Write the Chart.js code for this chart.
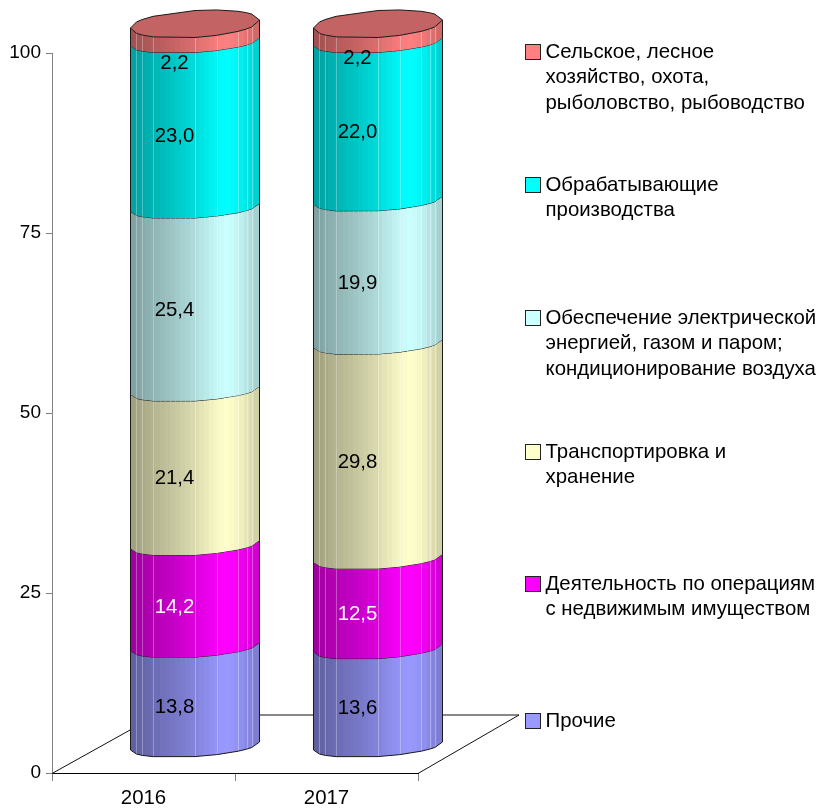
<!DOCTYPE html>
<html><head><meta charset="utf-8">
<style>html,body{margin:0;padding:0;background:#fff}canvas{display:block}</style>
<script src="https://cdn.jsdelivr.net/npm/chart.js@4"></script>
</head><body><canvas id="c" width="821" height="808"></canvas>
<script>
const categories = ['2016', '2017'];
const prochie = [13.8, 13.6];
const nedvizh = [14.2, 12.5];
const transport = [21.4, 29.8];
const energy = [25.4, 19.9];
const manufacturing = [23.0, 22.0];
const agriculture = [2.2, 2.2];
const yTicks = [0, 25, 50, 75, 100];
const seriesNames = [
  ['Прочие'],
  ['Деятельность по операциям', 'с недвижимым имуществом'],
  ['Транспортировка и', 'хранение'],
  ['Обеспечение электрической', 'энергией, газом и паром;', 'кондиционирование воздуха'],
  ['Обрабатывающие', 'производства'],
  ['Сельское, лесное', 'хозяйство, охота,', 'рыболовство, рыбоводство']
];
const seriesColors = ['#9999FF', '#FF00FF', '#FFFFCC', '#CCFFFF', '#00FFFF', '#FF8080'];
const labelColors = ['#000', '#fff', '#000', '#000', '#000', '#000'];
const seriesValues = [prochie, nedvizh, transport, energy, manufacturing, agriculture];

const FONT = '"Liberation Sans", Arial, sans-serif';
const FS = 20.4;
const DEPTH_X = 101, DEPTH_Y = 58.5;
const SHIFT_X = 51.5, SHIFT_Y = 26.5;
const TILT = 4, RING_B = 10.6, CAP_B = 13.5, CAP_LIFT = 2.5;
const SEAMS = [-1, -0.907, -0.82, -0.65, 0, 0.336, 0.667, 0.8, 0.88, 1];
const SHADE = [[0,.62],[.1,.67],[.3,.76],[.5,.86],[.7,.98],[.76,1],[.85,.95],[1,.8]];

function hexRgb(h){return [1,3,5].map(i=>parseInt(h.substr(i,2),16));}
function shadeAt(f){
  for(let i=1;i<SHADE.length;i++){
    if(f<=SHADE[i][0]){
      const a=SHADE[i-1],b=SHADE[i];
      return a[1]+(b[1]-a[1])*(f-a[0])/(b[0]-a[0]);
    }
  }
  return SHADE[SHADE.length-1][1];
}
function tint(rgb,f){return 'rgb('+rgb.map(v=>Math.round(v*f)).join(',')+')';}
function ringPts(cx,a,cy,b,sign){
  return SEAMS.map(c=>[cx+a*c, cy-TILT*c+sign*b*Math.sqrt(Math.max(0,1-c*c))]);
}
function strokePts(ctx,pts){
  ctx.beginPath();
  pts.forEach((p,i)=>i?ctx.lineTo(p[0],p[1]):ctx.moveTo(p[0],p[1]));
  ctx.stroke();
}

const cylinderPlugin = {
  id:'cylinders',
  beforeDatasetsDraw(chart){
    const {ctx,chartArea:ca}=chart;
    ctx.save();
    ctx.strokeStyle='#111';ctx.lineWidth=1;
    ctx.beginPath();
    ctx.moveTo(ca.left,ca.bottom+.5);
    ctx.lineTo(ca.left+DEPTH_X+4,ca.bottom-DEPTH_Y+.5);
    ctx.lineTo(ca.right+DEPTH_X,ca.bottom-DEPTH_Y+.5);
    ctx.lineTo(ca.right,ca.bottom+.5);
    ctx.stroke();
    ctx.restore();
  },
  beforeDatasetDraw(chart,args){
    const {ctx}=chart;
    const meta=args.meta, di=args.index;
    const rgb=hexRgb(seriesColors[di]);
    const isTop=di===seriesValues.length-1;
    meta.data.forEach(el=>{
      const p=el.getProps(['x','y','base','width'],true);
      const cx=p.x+SHIFT_X, a=p.width/2;
      const yTop=p.y-SHIFT_Y-(isTop?CAP_LIFT:0), yBase=p.base-SHIFT_Y;
      const low=ringPts(cx,a,yBase,RING_B,1);
      const up=ringPts(cx,a,yTop,isTop?CAP_B:RING_B,1);
      ctx.save();
      ctx.beginPath();
      low.forEach((q,i)=>i?ctx.lineTo(q[0],q[1]):ctx.moveTo(q[0],q[1]));
      up.slice().reverse().forEach(q=>ctx.lineTo(q[0],q[1]));
      ctx.closePath();
      ctx.save();ctx.clip();
      const n=26, L=cx-a, W=2*a;
      for(let i=0;i<n;i++){
        ctx.fillStyle=tint(rgb,shadeAt((i+.5)/n));
        const x0=Math.floor(L+W*i/n), x1=Math.ceil(L+W*(i+1)/n);
        ctx.fillRect(x0,yTop-30,x1-x0,yBase-yTop+60);
      }
      ctx.strokeStyle='rgba(255,255,255,.3)';ctx.lineWidth=1;
      SEAMS.slice(1,-1).forEach(c=>{
        const x=Math.round(cx+a*c)+.5;
        ctx.beginPath();ctx.moveTo(x,yTop-30);ctx.lineTo(x,yBase+30);ctx.stroke();
      });
      ctx.restore();
      ctx.strokeStyle='#1a1a1a';ctx.lineWidth=1;
      strokePts(ctx,low);
      const l=low[0],r=low[low.length-1],lu=up[0],ru=up[up.length-1];
      strokePts(ctx,[l,lu]);strokePts(ctx,[r,ru]);
      if(isTop){
        const back=ringPts(cx,a,yTop,CAP_B,-1);
        ctx.beginPath();
        up.forEach((q,i)=>i?ctx.lineTo(q[0],q[1]):ctx.moveTo(q[0],q[1]));
        back.slice().reverse().forEach(q=>ctx.lineTo(q[0],q[1]));
        ctx.closePath();
        ctx.fillStyle=tint(rgb,.77);ctx.fill();
        ctx.strokeStyle='#1a1a1a';ctx.stroke();
      }
      ctx.restore();
    });
    return false;
  },
  afterDatasetsDraw(chart){
    const {ctx}=chart;
    ctx.save();
    ctx.font=FS+'px '+FONT;ctx.textAlign='center';ctx.textBaseline='middle';
    chart.getSortedVisibleDatasetMetas().forEach(meta=>{
      const di=meta.index, vals=seriesValues[di];
      meta.data.forEach((el,i)=>{
        const p=el.getProps(['x','y','base'],true);
        const v=vals[i];
        const small=v<5;
        const dy=small?(i===0?29:24):11;
        ctx.fillStyle=labelColors[di];
        ctx.fillText(v.toFixed(1).replace('.',','),p.x+SHIFT_X-20.5,(p.y+p.base)/2-SHIFT_Y+dy);
      });
    });
    ctx.restore();
  },
  afterDraw(chart){
    const {ctx}=chart;
    const tops=[721,584,452,318,185,52];
    ctx.save();
    ctx.font=FS+'px '+FONT;ctx.textBaseline='middle';ctx.textAlign='left';
    seriesNames.forEach((lines,i)=>{
      const y=tops[i];
      ctx.fillStyle=seriesColors[i];
      ctx.fillRect(525.5,y-7.5,15,15);
      ctx.strokeStyle='#222';ctx.lineWidth=1;
      ctx.strokeRect(525.5,y-7.5,15,15);
      ctx.fillStyle='#000';
      lines.forEach((t,k)=>ctx.fillText(t,545.5,y+k*25.7));
    });
    ctx.restore();
  }
};

const datasets = seriesNames.map((n,i)=>({
  label:n.join(' '),
  data:seriesValues[i],
  backgroundColor:seriesColors[i],
  stack:'s'
}));

new Chart(document.getElementById('c'),{
  type:'bar',
  data:{labels:categories,datasets},
  plugins:[cylinderPlugin],
  options:{
    responsive:false,animation:false,devicePixelRatio:1,
    layout:{padding:{top:53,right:403,left:0,bottom:0}},
    datasets:{bar:{categoryPercentage:1,barPercentage:0.705}},
    plugins:{legend:{display:false},tooltip:{enabled:false},title:{display:false}},
    scales:{
      x:{
        stacked:true,
        afterFit(s){s.height=35;},
        grid:{drawOnChartArea:false,drawTicks:true,tickLength:8,color:'#808080',offset:true},
        border:{color:'#000',width:1},
        ticks:{color:'#000',font:{family:FONT,size:FS},padding:5,maxRotation:0}
      },
      y:{
        stacked:true,min:0,max:100,
        afterFit(s){s.width=52;},
        afterBuildTicks(s){s.ticks=yTicks.map(v=>({value:v}));},
        grid:{drawOnChartArea:false,drawTicks:true,tickLength:6,color:'#808080'},
        border:{color:'#808080',width:1},
        ticks:{color:'#000',font:{family:FONT,size:19},padding:5}
      }
    }
  }
});
</script></body></html>
